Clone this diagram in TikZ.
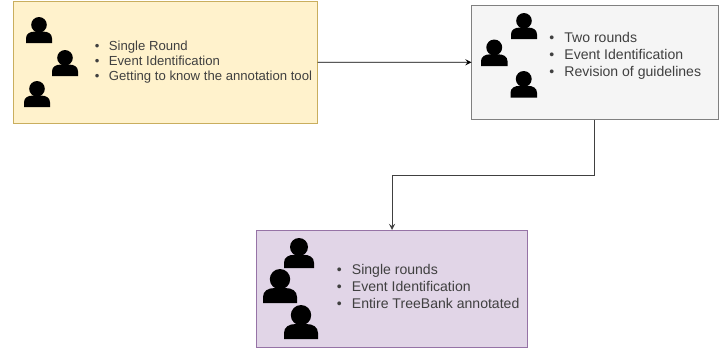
\documentclass[tikz,border=0pt]{standalone}
\usepackage{fontspec}
\setmainfont{Liberation Sans}
\definecolor{yellowfill}{HTML}{FFF2CC}
\definecolor{yellowline}{HTML}{C9AE5E}
\definecolor{grayfill}{HTML}{F5F5F5}
\definecolor{grayline}{HTML}{808080}
\definecolor{purplefill}{HTML}{E1D5E7}
\definecolor{purpleline}{HTML}{9673A6}
\definecolor{listtext}{HTML}{404040}
\tikzset{
	roundbox/.style={draw, line width=0.5pt, anchor=north west, inner sep=0pt, outer sep=0pt},
	list/.style 2 args={anchor=west, inner sep=0pt, align=left, text=listtext, font=\fontsize{#1}{#2}\selectfont},
	pics/person/.style={code={
		\fill (0.5,0.3) circle (0.3);
		\fill (0,1) -- (0,0.82) .. controls (0,0.64) and (0.16,0.56) .. (0.34,0.56) -- (0.66,0.56) .. controls (0.84,0.56) and (1,0.64) .. (1,0.82) -- (1,1) -- cycle;
	}},
}
\newcommand{\itm}{\textbullet\hspace{0.72em}}
\begin{document}
\begin{tikzpicture}[x=0.02cm, y=-0.02cm]
	\useasboundingbox (0,0) rectangle (728,352);
	\node[roundbox, fill=yellowfill, draw=yellowline, minimum width=304*0.02cm, minimum height=121.5*0.02cm] (yellowbox) at (13.5,1.5) {};
	\node[roundbox, fill=grayfill, draw=grayline, minimum width=246.5*0.02cm, minimum height=114.5*0.02cm] (graybox) at (471.5,5) {};
	\node[roundbox, fill=purplefill, draw=purpleline, minimum width=271*0.02cm, minimum height=117*0.02cm] (purplebox) at (256.5,230) {};

	\draw[->, >=stealth, line width=0.55pt] (yellowbox) -- (graybox);
	\draw[->, >=stealth, line width=0.55pt, color=black!75] (graybox.south) -- ++(0,55.5) -| (purplebox.north);

	\pic[scale=26] at (26,17) {person};
	\pic[scale=26] at (52,50) {person};
	\pic[scale=26] at (24,81) {person};

	\pic[scale=26] at (511,13) {person};
	\pic[scale=26.5] at (481,39.5) {person};
	\pic[scale=26.5] at (510.5,71) {person};

	\pic[scale=30] at (284,238) {person};
	\pic[scale=34] at (263,269) {person};
	\pic[scale=34] at (284,305) {person};

	\node[list={7.48pt}{8.55pt}] (yellowlist) at (94.5,62.5) {\itm Single Round\\\itm Event Identification\\\itm Getting to know the annotation tool};
	\node[list={8pt}{9.6pt}] (graylist) at (549,55.5) {\itm Two rounds\\\itm Event Identification\\\itm Revision of guidelines};
	\node[list={8pt}{9.6pt}] (purplelist) at (336.5,286.5) {\itm Single rounds\\\itm Event Identification\\\itm Entire TreeBank annotated};
\end{tikzpicture}
\end{document}
